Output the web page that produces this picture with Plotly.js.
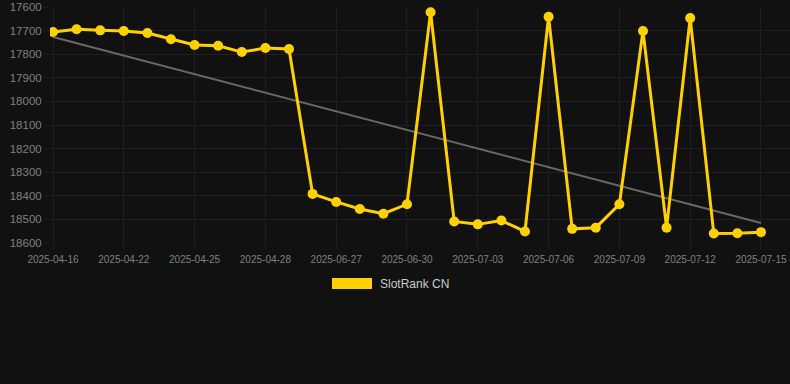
<!DOCTYPE html>
<html>
<head>
<meta charset="utf-8">
<script src="https://cdn.plot.ly/plotly-3.0.1.min.js"></script>
<style>
html,body{margin:0;padding:0;background:#111111;}
#chart{width:790px;height:384px;}
</style>
</head>
<body>
<div id="chart"></div>
<script>
// ---- data ----
const categories = [
  '2025-04-16','2025-04-17','2025-04-21','2025-04-22','2025-04-23','2025-04-24',
  '2025-04-25','2025-04-26','2025-04-27','2025-04-28','2025-04-29','2025-04-30',
  '2025-06-27','2025-06-28','2025-06-29','2025-06-30','2025-07-01','2025-07-02',
  '2025-07-03','2025-07-04','2025-07-05','2025-07-06','2025-07-07','2025-07-08',
  '2025-07-09','2025-07-10','2025-07-11','2025-07-12','2025-07-13','2025-07-14',
  '2025-07-15'
];
const rankValues = [
  17706,17694,17699,17702,17710,17737,17761,17764,17791,17774,17778,18392,
  18426,18456,18476,18436,17622,18509,18521,18505,18551,17641,18540,18535,
  18436,17702,18535,17647,18560,18559,18554
];
const trendCategories = ['2025-04-16','2025-07-15'];
const trendValues = [17727, 18515];
const tickLabels = ['2025-04-16','2025-04-22','2025-04-25','2025-04-28','2025-06-27',
  '2025-06-30','2025-07-03','2025-07-06','2025-07-09','2025-07-12','2025-07-15'];
const yTicks = [17600,17700,17800,17900,18000,18100,18200,18300,18400,18500,18600];
const seriesName = 'SlotRank CN';

const gridColor = '#1f1f1f';
const yellow = '#FFD100';

const traces = [
  {
    x: trendCategories, y: trendValues, type: 'scatter', mode: 'lines',
    line: {color: '#686868', width: 2}, hoverinfo: 'skip', showlegend: false
  },
  {
    x: categories, y: rankValues, type: 'scatter', mode: 'lines+markers',
    name: seriesName,
    line: {color: yellow, width: 3},
    marker: {color: yellow, size: 10},
    showlegend: false
  }
];

const layout = {
  width: 790, height: 384,
  paper_bgcolor: '#111111', plot_bgcolor: '#111111',
  margin: {l: 50, r: 0, t: 6.5, b: 141},
  font: {family: 'Liberation Sans, Arial, sans-serif', color: '#808080'},
  showlegend: false,
  xaxis: {
    type: 'category',
    categoryorder: 'array', categoryarray: categories,
    range: [-0.127, 31.23],
    tickmode: 'array', tickvals: tickLabels, ticktext: tickLabels,
    showgrid: true, gridcolor: gridColor, gridwidth: 1,
    ticks: 'outside', ticklen: 5, tickcolor: gridColor,
    ticklabelstandoff: 2,
    tickfont: {size: 10, color: '#808080'},
    showline: false, zeroline: false, fixedrange: true
  },
  yaxis: {
    range: [18600, 17600],
    tickmode: 'array', tickvals: yTicks, ticktext: yTicks.map(String),
    showgrid: true, gridcolor: gridColor, gridwidth: 1,
    ticks: 'outside', ticklen: 5, tickcolor: gridColor,
    tickfont: {size: 11.5, color: '#808080'},
    showline: false, zeroline: false, fixedrange: true
  },
  shapes: [
    {type: 'rect', xref: 'paper', yref: 'paper',
     x0: (332 - 50) / 740, x1: (372 - 50) / 740,
     y0: (243 - 289) / 236.5, y1: (243 - 278) / 236.5,
     fillcolor: yellow, line: {width: 0}}
  ],
  annotations: [
    {xref: 'paper', yref: 'paper', x: (378 - 50) / 740, y: (243 - 284) / 236.5,
     xanchor: 'left', yanchor: 'middle', showarrow: false,
     text: seriesName, font: {size: 12, color: '#cccccc'}}
  ]
};

Plotly.newPlot('chart', traces, layout, {displayModeBar: false, staticPlot: true});
</script>
</body>
</html>
